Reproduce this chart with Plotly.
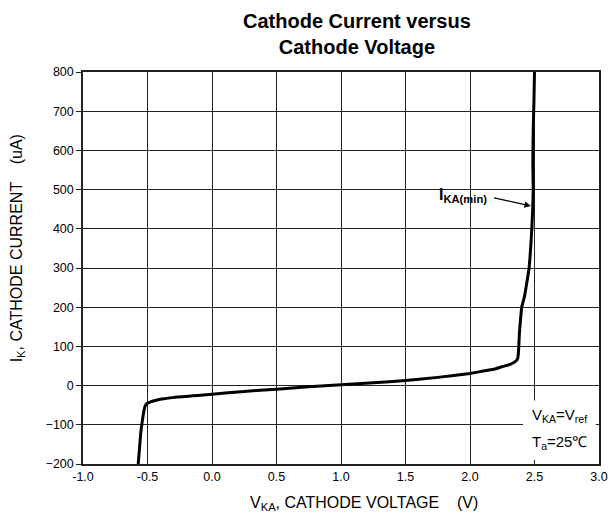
import plotly.graph_objects as go

# Curve: cathode voltage (V) vs cathode current (uA)
v_ka = [-0.572, -0.562, -0.552, -0.540, -0.528, -0.518, -0.505, -0.480, -0.440,
        -0.400, -0.270, 0.000, 0.250, 0.500, 0.750, 1.000, 1.250, 1.500, 1.750,
        2.000, 2.100, 2.200, 2.245, 2.300, 2.340, 2.360, 2.370, 2.375, 2.379,
        2.383, 2.392, 2.401, 2.422, 2.440, 2.458, 2.470, 2.479, 2.486, 2.490,
        2.487, 2.490, 2.496, 2.500]
i_k = [-200, -160, -120, -90, -65, -52, -46, -42, -38,
       -35, -29, -22, -15, -9, -3, 2, 7, 13, 21,
       31, 37, 43, 48, 53, 59, 64, 70, 82, 105,
       133, 170, 200, 227, 262, 300, 350, 400, 450, 500,
       565, 650, 730, 800]

x_ticks = [-1.0, -0.5, 0.0, 0.5, 1.0, 1.5, 2.0, 2.5, 3.0]
y_ticks = [-200, -100, 0, 100, 200, 300, 400, 500, 600, 700, 800]

FONT = "Liberation Sans, Arial, sans-serif"

fig = go.Figure()
fig.add_trace(go.Scatter(x=v_ka, y=i_k, mode="lines",
                         line=dict(color="black", width=3, shape="spline", smoothing=0.4),
                         showlegend=False, hoverinfo="skip"))

fig.update_layout(
    width=608, height=519,
    margin=dict(l=83, r=9, t=72, b=55),
    paper_bgcolor="white", plot_bgcolor="white",
    font=dict(family=FONT, size=12.5, color="black"),
    showlegend=False,
)
fig.update_xaxes(range=[-1.0, 3.0], tickvals=x_ticks,
                 ticktext=[f"{v:.1f}" for v in x_ticks],
                 showgrid=True, gridcolor="#222222", gridwidth=1.3,
                 showline=True, linecolor="#222222", linewidth=1.5, mirror=True,
                 ticks="", zeroline=False, tickfont=dict(size=12.5), automargin=False)
fig.update_yaxes(range=[-200, 800], tickvals=y_ticks,
                 showgrid=True, gridcolor="#222222", gridwidth=1.3,
                 showline=True, linecolor="#222222", linewidth=1.5, mirror=True,
                 ticks="outside", ticklen=5, tickcolor="#222222",
                 zeroline=False, tickfont=dict(size=12.5), automargin=False)

# white box behind the condition text
fig.add_shape(type="rect", xref="x", yref="y", x0=2.411, x1=2.975, y0=-190, y1=-38,
              fillcolor="white", line=dict(width=0), layer="above")

ann = []
ann.append(dict(text="<b>Cathode Current versus<br>Cathode Voltage</b>",
                xref="paper", yref="paper", x=0.531, y=1.097, showarrow=False,
                xanchor="center", yanchor="middle", font=dict(size=20, family=FONT)))
ann.append(dict(text="V<sub>KA</sub>, CATHODE VOLTAGE    (V)",
                xref="paper", yref="paper", x=0.544, y=-0.10, showarrow=False,
                xanchor="center", yanchor="middle", font=dict(size=16, family=FONT)))
ann.append(dict(text="I<sub>K</sub>, CATHODE CURRENT    (uA)", textangle=-90,
                xref="paper", yref="paper", x=-0.128, y=0.55, showarrow=False,
                xanchor="center", yanchor="middle", font=dict(size=16, family=FONT)))
ann.append(dict(text="<b>I<sub>KA(min)</sub></b>",
                xref="x", yref="y", x=1.744, y=485, showarrow=False,
                xanchor="left", yanchor="middle", font=dict(size=16, family=FONT)))
ann.append(dict(text="", xref="x", yref="y", x=2.472, y=458,
                axref="x", ayref="y", ax=2.175, ay=480,
                showarrow=True, arrowhead=2, arrowsize=1, arrowwidth=1.3,
                arrowcolor="black"))
ann.append(dict(text="V<sub>KA</sub>=V<sub>ref</sub>",
                xref="x", yref="y", x=2.69, y=-76, showarrow=False,
                xanchor="center", yanchor="middle", font=dict(size=15, family=FONT)))
ann.append(dict(text="T<sub>a</sub>=25℃",
                xref="x", yref="y", x=2.69, y=-145, showarrow=False,
                xanchor="center", yanchor="middle", font=dict(size=15, family=FONT)))
fig.update_layout(annotations=ann)

fig.write_html("out.html", config={"displayModeBar": False},
               post_script="document.body.style.margin='0';document.body.style.overflow='hidden';")
